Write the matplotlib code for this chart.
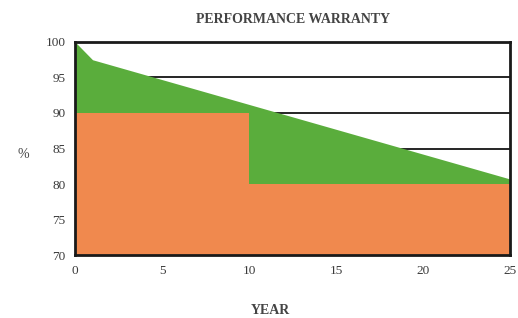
import matplotlib.pyplot as plt

# linear power warranty (green) and step product warranty (orange)
linear_years = [0, 1, 25]
linear_pct = [100, 97.5, 80.7]
step_years = [0, 10, 25]
step_pct = [90, 80, 80]
yticks = [70, 75, 80, 85, 90, 95, 100]
xticks = [0, 5, 10, 15, 20, 25]

plt.rcParams['font.family'] = ['Liberation Serif', 'DejaVu Serif']

fig = plt.figure(figsize=(5.18, 3.18), dpi=100)
ax = fig.add_axes([0.145, 0.198, 0.84, 0.67])

ax.fill_between(linear_years, 70, linear_pct, color='#5aad3c', lw=0, zorder=2)
ax.fill_between(step_years, 70, step_pct, step='post', color='#f0894e', lw=0, zorder=3)

ax.set_xlim(0, 25)
ax.set_ylim(70, 100)
ax.set_xticks(xticks)
ax.set_yticks(yticks)
ax.yaxis.grid(True, color='black', lw=1.2)
ax.set_axisbelow(True)
ax.tick_params(length=0, labelsize=9.5, colors='#3a3a3a', pad=7)

for s in ax.spines.values():
    s.set_linewidth(2)
    s.set_color('#1a1a1a')
    s.set_zorder(5)

fig.text(0.565, 0.94, 'PERFORMANCE WARRANTY', ha='center', va='center',
         fontsize=10, fontweight='bold', color='#444444')
fig.text(0.522, 0.025, 'YEAR', ha='center', va='center',
         fontsize=10, fontweight='bold', color='#444444')
fig.text(0.045, 0.515, '%', ha='center', va='center', fontsize=10, color='#444444')

plt.savefig('out.png', dpi=100)
